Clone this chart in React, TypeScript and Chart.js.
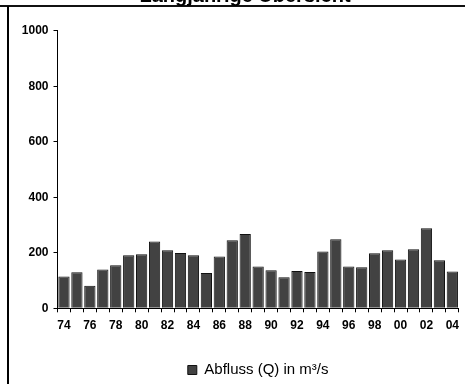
import React, { useEffect, useRef } from 'react';
import { Chart, registerables } from 'chart.js';

Chart.register(...registerables);

const chartTitle = 'Langjährige Übersicht';
const seriesLabel = 'Abfluss (Q) in m³/s';
const years = [
  '74', '75', '76', '77', '78', '79', '80', '81', '82', '83',
  '84', '85', '86', '87', '88', '89', '90', '91', '92', '93',
  '94', '95', '96', '97', '98', '99', '00', '01', '02', '03', '04',
];
const abfluss = [
  115, 130, 81, 140, 155, 191, 195, 241, 209, 199,
  191, 127, 187, 245, 268, 151, 137, 112, 134, 131,
  205, 249, 151, 148, 198, 209, 176, 213, 288, 173, 133,
];
const yMin = 0;
const yMax = 1000;
const yStep = 200;

const FONT = "Arial, 'Liberation Sans', sans-serif";

// Title drawn slightly right of the canvas centre, as in the reference frame.
const titlePlugin = {
  id: 'frameTitle',
  afterDraw(chart: any) {
    const ctx = chart.ctx;
    ctx.save();
    ctx.font = `bold 20px ${FONT}`;
    ctx.fillStyle = '#000';
    ctx.textAlign = 'center';
    ctx.textBaseline = 'alphabetic';
    ctx.fillText(chartTitle, chart.width / 2 + 12.5, 21.9);
    ctx.restore();
  },
};

export default function App() {
  const ref = useRef<HTMLCanvasElement | null>(null);

  useEffect(() => {
    if (!ref.current) return;
    const chart = new Chart(ref.current, {
      type: 'bar',
      data: {
        labels: years,
        datasets: [
          {
            label: seriesLabel,
            data: abfluss,
            backgroundColor: '#424242',
            borderColor: '#111111',
            borderWidth: 1,
            barPercentage: 0.87,
            categoryPercentage: 1,
          },
        ],
      },
      plugins: [titlePlugin],
      options: {
        animation: false,
        responsive: false,
        devicePixelRatio: 1,
        layout: { padding: { left: 0, right: 0, top: 50.7, bottom: 12.5 } },
        plugins: {
          title: { display: false },
          legend: {
            position: 'bottom',
            fullSize: false,
            labels: {
              color: '#000',
              boxWidth: 9,
              boxHeight: 9,
              padding: 10,
              font: { family: FONT, size: 15 },
            },
          },
          tooltip: { enabled: false },
        },
        scales: {
          x: {
            grid: {
              display: true,
              drawOnChartArea: false,
              drawTicks: true,
              tickLength: 4,
              color: '#000',
              offset: true,
            },
            border: { display: true, color: '#000', width: 1 },
            ticks: {
              autoSkip: false,
              maxRotation: 0,
              minRotation: 0,
              padding: 6,
              color: '#000',
              font: { family: FONT, size: 12, weight: 'bold' },
              callback: (_v: any, i: number) => (i % 2 === 0 ? years[i] : ''),
            },
            afterFit: (s: any) => {
              s.height = 44.2;
            },
          },
          y: {
            min: yMin,
            max: yMax,
            grid: {
              display: true,
              drawOnChartArea: false,
              drawTicks: true,
              tickLength: 4,
              color: '#000',
            },
            border: { display: true, color: '#000', width: 1 },
            ticks: {
              stepSize: yStep,
              padding: 5,
              color: '#000',
              font: { family: FONT, size: 12, weight: 'bold' },
              callback: (v: any) => String(v),
            },
            afterFit: (s: any) => {
              s.width = 57.5;
            },
          },
        },
      },
    });
    return () => chart.destroy();
  }, []);

  return (
    <div>
      <div
        style={{
          position: 'fixed',
          left: 0,
          top: 5,
          width: 465,
          height: 0,
          borderTop: '2px solid #111',
        }}
      />
      <div
        style={{
          position: 'fixed',
          left: 7,
          top: 6,
          width: 0,
          height: 400,
          borderLeft: '2px solid #000',
        }}
      />
      <div style={{ position: 'fixed', left: 0, top: -20, width: 465, height: 420 }}>
        <canvas ref={ref} width={465} height={420} style={{ display: 'block' }} />
      </div>
    </div>
  );
}
